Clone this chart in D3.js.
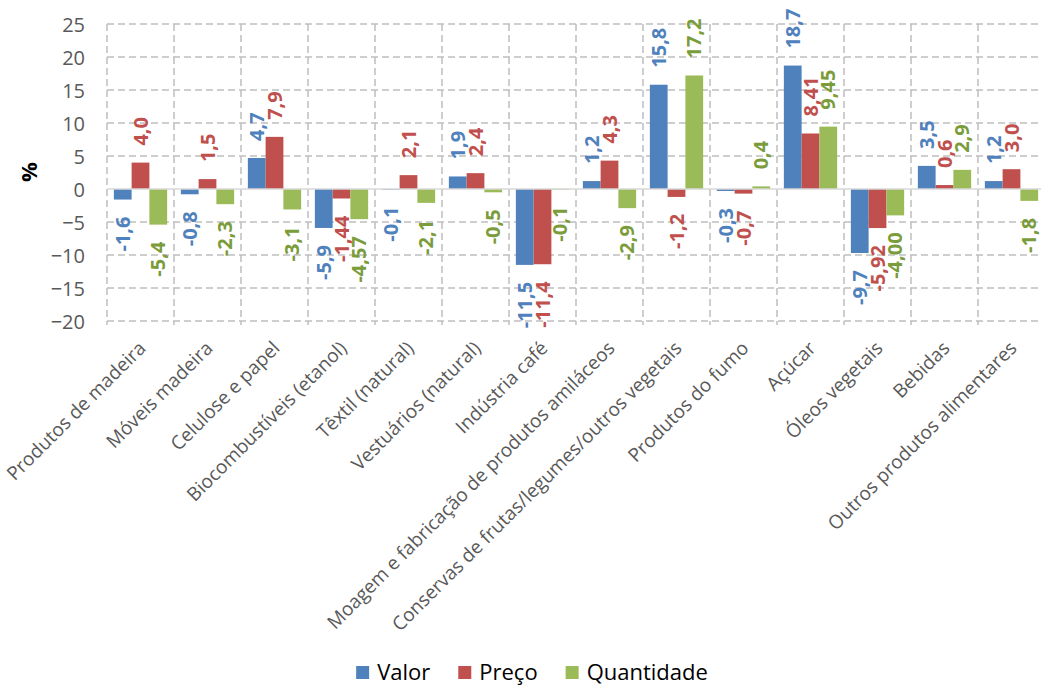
<!DOCTYPE html>
<html>
<head>
<meta charset="utf-8">
<script src="https://cdn.jsdelivr.net/npm/d3@7/dist/d3.min.js"></script>
<style>
  html, body { margin: 0; padding: 0; background: #fff; }
  svg { display: block; font-family: "Open Sans", sans-serif; }
</style>
</head>
<body>
<svg id="chart" width="1041" height="685"></svg>
<script>
const categories = [
  "Produtos de madeira", "Móveis madeira", "Celulose e papel", "Biocombustíveis (etanol)",
  "Têxtil (natural)", "Vestuários (natural)", "Indústria café",
  "Moagem e fabricação de produtos amiláceos", "Conservas de frutas/legumes/outros vegetais",
  "Produtos do fumo", "Açúcar", "Óleos vegetais", "Bebidas", "Outros produtos alimentares"
];
const seriesNames = ["Valor", "Preço", "Quantidade"];
const valor      = [-1.6, -0.8, 4.7, -5.9, -0.1, 1.9, -11.5, 1.2, 15.8, -0.3, 18.7, -9.7, 3.5, 1.2];
const preco      = [4.0, 1.5, 7.9, -1.44, 2.1, 2.4, -11.4, 4.3, -1.2, -0.7, 8.41, -5.92, 0.6, 3.0];
const quantidade = [-5.4, -2.3, -3.1, -4.57, -2.1, -0.5, -0.1, -2.9, 17.2, 0.4, 9.45, -4.00, 2.9, -1.8];
const valorDec      = [1,1,1,1,1,1,1,1,1,1,1,1,1,1];
const precoDec      = [1,1,1,2,1,1,1,1,1,1,2,2,1,1];
const quantidadeDec = [1,1,1,2,1,1,1,1,1,1,2,2,1,1];
const yTicks = [-20, -15, -10, -5, 0, 5, 10, 15, 20, 25];

const seriesValues = [valor, preco, quantidade];
const seriesDec = [valorDec, precoDec, quantidadeDec];
const barColors = ["#4F81BD", "#C0504D", "#9BBB59"];
const labelColors = ["#4F81BD", "#C0504D", "#7A9C3A"];

const svg = d3.select("#chart");
const plotLeft = 107, plotTop = 24, plotBottom = 321;
const step = 67.0;
const plotRight = plotLeft + step * categories.length;

const x = d3.scaleBand().domain(categories).range([plotLeft, plotRight]).paddingInner(0).paddingOuter(0);
const xs = d3.scaleBand().domain(seriesNames).range([0, x.bandwidth()]).paddingInner(0).paddingOuter(0.386);
const y = d3.scaleLinear().domain([-20, 25]).range([plotBottom, plotTop]);

const grid = svg.append("g");
grid.selectAll("line.h").data(yTicks.filter(t => t !== 0)).join("line")
  .attr("x1", plotLeft).attr("x2", plotRight)
  .attr("y1", d => y(d)).attr("y2", d => y(d))
  .attr("stroke", "#BFBFBF").attr("stroke-width", 1.5).attr("stroke-dasharray", "7,4");
const bounds = categories.map(c => x(c)).concat([plotRight]);
grid.selectAll("line.v").data(bounds).join("line")
  .attr("x1", d => d).attr("x2", d => d)
  .attr("y1", plotTop).attr("y2", plotBottom + 4)
  .attr("stroke", "#BFBFBF").attr("stroke-width", 1.5).attr("stroke-dasharray", "7,4");

const yAxis = d3.axisLeft(y).tickValues(yTicks).tickSize(0).tickPadding(0).tickFormat(d3.format("d"));
const ya = svg.append("g").attr("transform", `translate(85,0)`).call(yAxis);
ya.select(".domain").remove();
ya.selectAll("text").attr("font-size", 20).attr("fill", "#595959")
  .attr("font-family", "Open Sans, sans-serif").attr("dy", "0.35em");

svg.append("text").attr("transform", "translate(37,172) rotate(-90)")
  .attr("text-anchor", "middle").attr("font-size", 22).attr("font-weight", "bold")
  .attr("fill", "#000").text("%");

const barG = svg.append("g");
seriesNames.forEach((s, si) => {
  barG.selectAll(null).data(categories).join("rect")
    .attr("x", c => x(c) + xs(s))
    .attr("width", xs.bandwidth())
    .attr("y", (c, i) => y(Math.max(0, seriesValues[si][i])))
    .attr("height", (c, i) => Math.abs(y(seriesValues[si][i]) - y(0)))
    .attr("fill", barColors[si]);
});

svg.append("line").attr("x1", plotLeft).attr("x2", plotRight).attr("y1", y(0)).attr("y2", y(0))
  .attr("stroke", "#D9D9D9").attr("stroke-width", 1.5);

const fmt = (v, d) => d3.format("." + d + "f")(v).replace(".", ",").replace("−", "-");
const labG = svg.append("g");
seriesNames.forEach((s, si) => {
  labG.selectAll(null).data(categories).join("text")
    .attr("transform", (c, i) => {
      const v = seriesValues[si][i];
      const cx = x(c) + xs(s) + xs.bandwidth() / 2;
      const yy = v >= 0 ? y(v) - 17 : y(v) + 17;
      return `translate(${cx},${yy}) rotate(-90)`;
    })
    .attr("text-anchor", (c, i) => seriesValues[si][i] >= 0 ? "start" : "end")
    .attr("dy", "0.36em")
    .attr("font-size", 20).attr("font-weight", "bold")
    .attr("fill", labelColors[si])
    .text((c, i) => fmt(seriesValues[si][i], seriesDec[si][i]));
});

const catG = svg.append("g");
catG.selectAll(null).data(categories).join("text")
  .attr("transform", c => `translate(${x(c) + x.bandwidth() / 2 - 3},${plotBottom + 19}) rotate(-45)`)
  .attr("text-anchor", "end")
  .attr("dy", "0.7em")
  .attr("font-size", 19).attr("fill", "#595959")
  .text(c => c);

const legG = svg.append("g");
let lx = 0;
const items = [];
seriesNames.forEach((s, si) => {
  const g = legG.append("g");
  g.append("rect").attr("x", 0).attr("y", -14).attr("width", 13).attr("height", 13).attr("fill", barColors[si]);
  const t = g.append("text").attr("x", 21).attr("y", 0).attr("font-size", 22).attr("fill", "#000").text(s);
  const w = 21 + t.node().getComputedTextLength();
  items.push({ g, x: lx });
  lx += w + 28;
});
const totalW = lx - 28;
const startX = 532 - totalW / 2;
items.forEach(it => it.g.attr("transform", `translate(${startX + it.x},680)`));
</script>
</body>
</html>
